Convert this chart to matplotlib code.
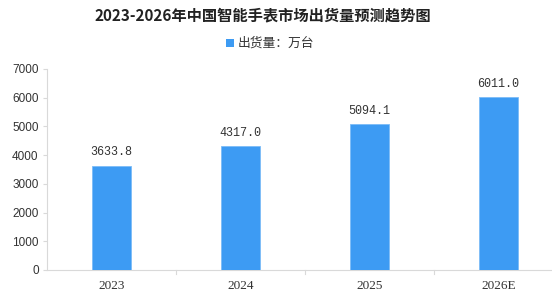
import matplotlib
matplotlib.use("Agg")
import matplotlib.pyplot as plt
from matplotlib.patches import Rectangle

plt.rcParams['font.family'] = ['Noto Sans CJK SC', 'DejaVu Sans']

categories = ["2023", "2024", "2025", "2026E"]
values = [3633.8, 4317.0, 5094.1, 6011.0]
yticks = [0, 1000, 2000, 3000, 4000, 5000, 6000, 7000]
title = "2023-2026年中国智能手表市场出货量预测趋势图"
legend_label = "出货量：万台"

W, H = 552, 296
fig = plt.figure(figsize=(W / 100, H / 100), dpi=100)
ax = fig.add_axes([47 / W, 26 / H, 516 / W, 201 / H])

color = "#3d9bf3"
x = list(range(len(categories)))
ax.bar(x, values, width=0.31, color=color, edgecolor="#7cbcf7", linewidth=0.6, zorder=3)
ax.set_xlim(-0.5, len(categories) - 0.5)
ax.set_ylim(0, 7000)
ax.set_yticks(yticks)
ax.set_yticklabels([str(t) for t in yticks], fontsize=8.5, color="#333333",
                   family=['Liberation Sans'])
ax.set_xticks(x)
ax.set_xticklabels(categories, fontsize=9.5, color="#333333", family=['Liberation Serif'])
ax.tick_params(axis='x', length=0, pad=7)
ax.tick_params(axis='y', length=3, color="#d9d9d9", width=0.8, pad=3)
for b in [i + 0.5 for i in range(len(categories) - 1)]:
    ax.plot([b, b], [0, -150], color="#d9d9d9", lw=0.8, clip_on=False, zorder=2)

for s in ["top", "right"]:
    ax.spines[s].set_visible(False)
ax.spines["left"].set_color("#d9d9d9")
ax.spines["bottom"].set_color("#d9d9d9")
ax.spines["left"].set_linewidth(0.8)
ax.spines["bottom"].set_linewidth(0.8)

for xi, v in zip(x, values):
    ax.text(xi, v + 250, f"{v:.1f}", ha="center", va="bottom", fontsize=8.5,
            color="#333333", family=['Liberation Mono'])

fig.text(263 / W, 1 - 15 / H, title, ha="center", va="center", fontsize=11,
         fontweight="bold", color="#222222")
fig.patches.append(Rectangle((226 / W, 1 - 47 / H), 8 / W, 8 / H, transform=fig.transFigure,
                             facecolor=color, edgecolor="none"))
fig.text(238 / W, 1 - 43 / H, legend_label, ha="left", va="center", fontsize=9.2,
         color="#333333")

fig.savefig("out.png", dpi=100)
